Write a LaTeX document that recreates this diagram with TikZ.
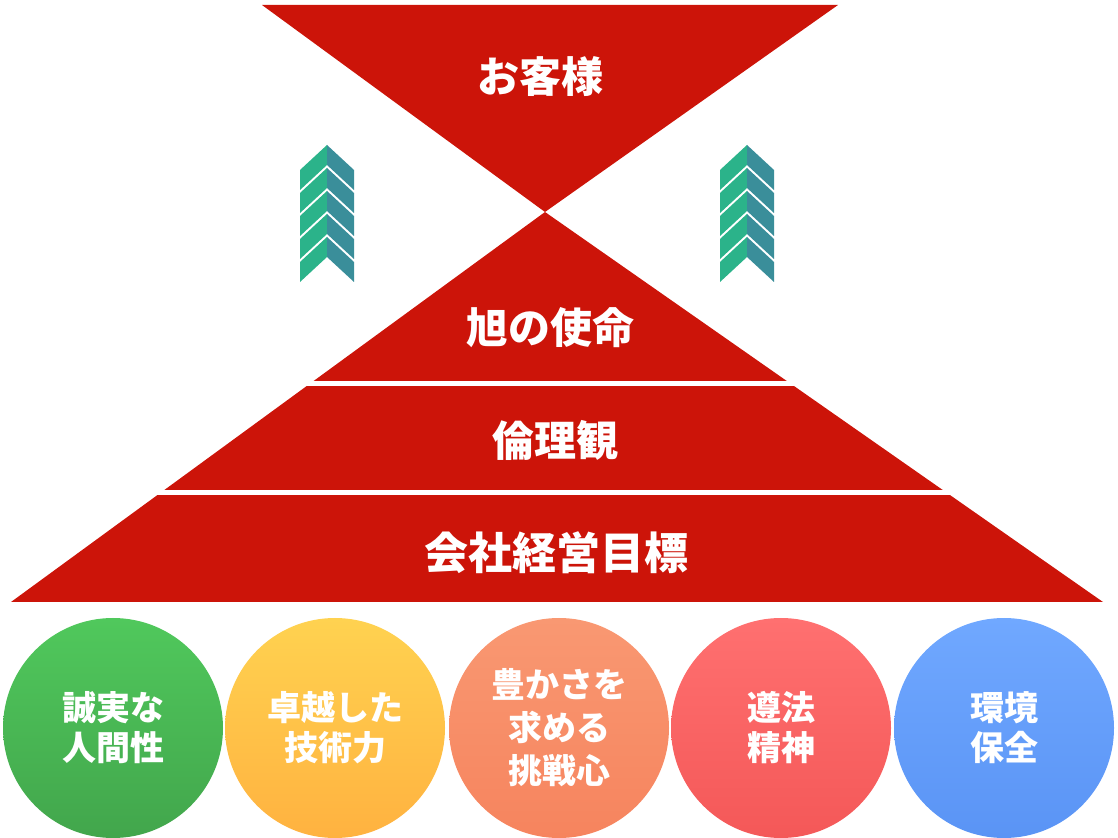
\documentclass[tikz,border=0pt]{standalone}
\usepackage{fontspec}
\newfontfamily\jp{Noto Sans CJK JP}
\definecolor{pyred}{HTML}{CC1409}
\definecolor{arrowgreen}{HTML}{2BB38A}
\definecolor{arrowteal}{HTML}{3A8E9A}
\tikzset{
  band/.style = {fill = pyred, draw = none},
  title/.style = {text = white, font = \jp\bfseries\fontsize{21}{21}\selectfont},
  virtue/.style = {circle, minimum size = 110pt, inner sep = 0pt, text = white,
    align = center, font = \jp\bfseries\fontsize{17}{20}\selectfont}
}
\begin{document}
\begin{tikzpicture}
      [x = .5pt, y = -.5pt]
      \useasboundingbox (0,0) rectangle (1118,838);
      % inverted triangle and pyramid
      \fill[band] (262,5) -- (838,5) -- (545,212) -- cycle;
      \fill[band] (545,212) -- (11,602) -- (1103,602) -- cycle;
      \fill[white] (0,381) rectangle (1118,386);
      \fill[white] (0,490) rectangle (1118,495);
      \node[title] (customer) at (540,77) {お客様};
      \node[title] (mission) at (550,328) {旭の使命};
      \node[title] (ethics) at (555,440) {倫理観};
      \node[title, font = \jp\bfseries\fontsize{22}{22}\selectfont] (goal) at (556,553) {会社経営目標};
      % chevrons
      \foreach \cx in {327, 747}
        \foreach \p in {145, 168, ..., 237}
        {
          \fill[arrowgreen] (\cx,\p) -- (\cx-27,\p+25) -- (\cx-27,\p+45) -- (\cx,\p+20) -- cycle;
          \fill[arrowteal] (\cx,\p) -- (\cx+27,\p+25) -- (\cx+27,\p+45) -- (\cx,\p+20) -- cycle;
        }
      % values
      \node[virtue, top color = {rgb,255:red,80;green,200;blue,92}, bottom color = {rgb,255:red,66;green,166;blue,76}]
        (honesty) at (113,728) {誠実な\\人間性};
      \node[virtue, top color = {rgb,255:red,255;green,210;blue,80}, bottom color = {rgb,255:red,255;green,178;blue,64}]
        (skill) at (335,728) {卓越した\\技術力};
      \node[virtue, top color = {rgb,255:red,249;green,152;blue,114}, bottom color = {rgb,255:red,246;green,132;blue,94}, font = \jp\bfseries\fontsize{17}{21.5}\selectfont]
        (challenge) at (559,728) {豊かさを\\求める\\挑戦心};
      \node[virtue, top color = {rgb,255:red,255;green,112;blue,112}, bottom color = {rgb,255:red,244;green,88;blue,88}]
        (law) at (781,728) {遵法\\精神};
      \node[virtue, top color = {rgb,255:red,112;green,168;blue,255}, bottom color = {rgb,255:red,90;green,148;blue,245}]
        (environment) at (1004,728) {環境\\保全};
    \end{tikzpicture}
\end{document}
